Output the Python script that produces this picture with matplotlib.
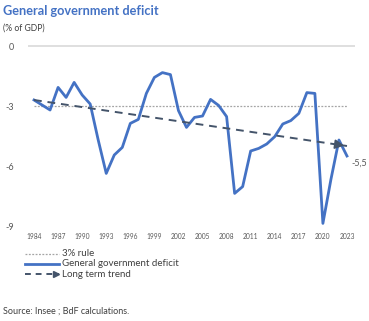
import matplotlib
matplotlib.use("Agg")
from matplotlib import pyplot as plt
from matplotlib.lines import Line2D

years = list(range(1984, 2024))
deficit = [-2.7, -2.95, -3.2, -2.07, -2.57, -1.82, -2.45, -2.9, -4.7, -6.37,
           -5.45, -5.07, -3.87, -3.67, -2.37, -1.57, -1.33, -1.43, -3.23, -4.07,
           -3.57, -3.5, -2.67, -2.97, -3.53, -7.37, -7.03, -5.25, -5.12, -4.9,
           -4.53, -3.9, -3.73, -3.37, -2.33, -2.37, -8.87, -6.67, -4.7, -5.5]
rule_years = [1984, 2023]
rule_vals = [-3, -3]
trend_years = [1984, 2023]
trend_vals = [-2.7, -5.0]
yticks = [0, -3, -6, -9]
xticks = list(range(1984, 2024, 3))

blue = "#4472C4"
navy = "#44546A"
grey = "#A5A5A5"
txt = "#595959"

plt.rcParams['font.family'] = ['Lato', 'DejaVu Sans']

W, H = 369, 321
fig = plt.figure(figsize=(W / 100, H / 100), dpi=100)

# axes box in pixels: x 28..355, y 40..232
ax = fig.add_axes([28 / W, (H - 232) / H, 327 / W, 192 / H])
ax.set_xlim(1983.25, 2024.0)
ax.set_ylim(-9.3, 0.3)
for s in ax.spines.values():
    s.set_visible(False)

ax.axhline(0, color="#D9D9D9", lw=1.2, zorder=1)
ax.plot(rule_years, rule_vals, color=grey, lw=0.9, ls=(0, (1.5, 1.2)), zorder=2)
ax.plot(years, deficit, color=blue, lw=2.0, solid_joinstyle="round", zorder=3)
ax.plot(trend_years, trend_vals, color=navy, lw=1.4, ls=(0, (4, 3)), zorder=4)
slope = (trend_vals[1] - trend_vals[0]) / (trend_years[1] - trend_years[0])
ax.annotate("", xy=(trend_years[1], trend_vals[1]),
            xytext=(trend_years[1] - 0.8, trend_vals[1] - 0.8 * slope),
            arrowprops=dict(arrowstyle="-|>,head_length=0.55,head_width=0.28", color=navy, lw=1.2),
            zorder=5)

ax.text(2023.6, deficit[-1] - 0.35, "-5,5", fontsize=6.5, color=txt, va="center", ha="left")

ax.set_yticks(yticks)
ax.set_yticklabels([str(v) for v in yticks], fontsize=6.5, color=txt)
ax.set_xticks(xticks)
ax.set_xticklabels([str(v) for v in xticks], fontsize=4.8, color=txt)
ax.tick_params(axis="x", length=0, pad=0.5)
ax.tick_params(axis="y", length=0, pad=10)

fig.text(3 / W, 1 - 11 / H, "General government deficit", fontsize=9.2, fontweight="bold",
         color=blue, va="center", ha="left")
fig.text(3 / W, 1 - 28 / H, "(% of GDP)", fontsize=6.2, color="#404040", va="center", ha="left")

# legend drawn under the plot
leg = [
    ("3% rule", dict(color=grey, lw=0.9, ls=(0, (1.5, 1.2)))),
    ("General government deficit", dict(color=blue, lw=2.0)),
    ("Long term trend", dict(color=navy, lw=1.4, ls=(0, (3, 2.5)))),
]
for i, (label, style) in enumerate(leg):
    yp = 1 - (253.5 + i * 10.3) / H
    fig.add_artist(Line2D([25 / W, 59 / W], [yp, yp], transform=fig.transFigure, **style))
    fig.text(62 / W, yp, label, fontsize=7, color="#404040", va="center", ha="left")
fig.add_artist(Line2D([56 / W], [1 - 274.1 / H], transform=fig.transFigure, marker=">",
                      markersize=4, color=navy, ls="none"))

fig.text(3 / W, 1 - 311 / H, "Source: Insee ; BdF calculations.", fontsize=6.5,
         color="#404040", va="center", ha="left")

fig.savefig("out.png", dpi=100)
